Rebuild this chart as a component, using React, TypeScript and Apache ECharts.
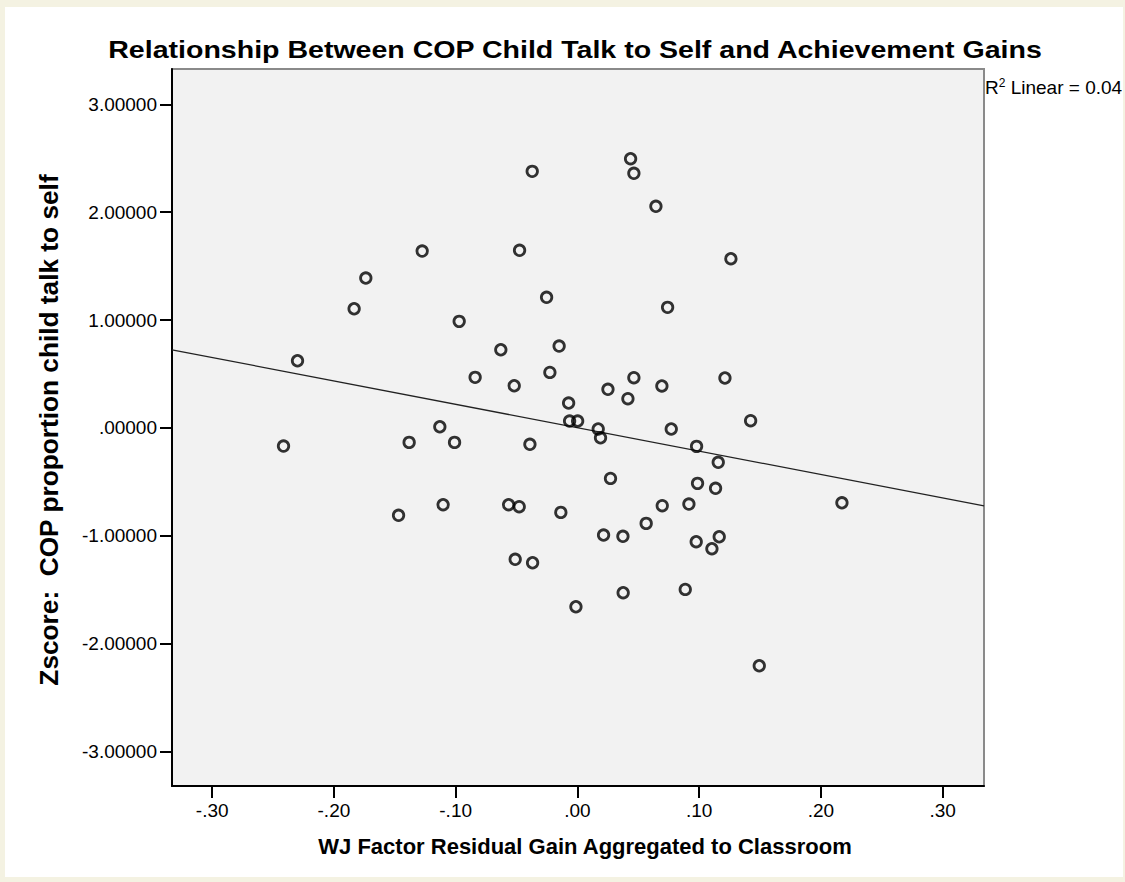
import React, { useEffect, useRef } from "react";
import * as echarts from "echarts";

const chartTitle = "Relationship Between COP Child Talk to Self and Achievement Gains";
const xAxisTitle = "WJ Factor Residual Gain Aggregated to Classroom";
const yAxisTitle = "Zscore:  COP proportion child talk to self";

const xTicks = [-0.3, -0.2, -0.1, 0, 0.1, 0.2, 0.3];
const yTicks = [-3, -2, -1, 0, 1, 2, 3];
const xRange = [-0.333, 0.334];
const yRange = [-3.32, 3.328];

const xValues = [
  -0.2414, -0.2299, -0.1834, -0.1738, -0.1469, -0.1382, -0.1275, -0.113, -0.1103, -0.1009,
  -0.0971, -0.084, -0.0629, -0.0565, -0.0519, -0.0511, -0.0478, -0.0475, -0.039, -0.0371,
  -0.0368, -0.0253, -0.0226, -0.015, -0.0136, -0.0072, -0.0064, 0.0002, -0.0012, 0.0171,
  0.019, 0.0215, 0.0251, 0.0272, 0.0374, 0.0376, 0.0415, 0.0437, 0.0464, 0.0464,
  0.0565, 0.0645, 0.0694, 0.0697, 0.0741, 0.0771, 0.0886, 0.0916, 0.0976, 0.0979,
  0.0987, 0.1105, 0.1135, 0.1157, 0.1165, 0.1212, 0.1261, 0.1423, 0.1494, 0.2173,
];
const yValues = [
  -0.168, 0.623, 1.105, 1.39, -0.81, -0.134, 1.64, 0.011, -0.712, -0.134,
  0.988, 0.469, 0.725, -0.712, 0.391, -1.218, -0.73, 1.647, -0.152, 2.379,
  -1.25, 1.211, 0.515, 0.759, -0.783, 0.231, 0.064, 0.064, -1.658, -0.01,
  -0.091, -0.993, 0.358, -0.468, -1.005, -1.528, 0.271, 2.496, 2.361, 0.466,
  -0.885, 2.055, 0.389, -0.721, 1.118, -0.01, -1.497, -0.706, -1.055, -0.171,
  -0.514, -1.12, -0.56, -0.319, -1.009, 0.463, 1.569, 0.067, -2.205, -0.694,
];

const fitSlope = -2.17;
const fitIntercept = 0.002;
const rSquaredText = "0.04";

const FONT = "'Liberation Sans', Arial, sans-serif";

function fmtX(v: number): string {
  const s = Math.abs(v).toFixed(2).replace(/^0/, "");
  return (v < -1e-9 ? "-" : "") + s;
}
function fmtY(v: number): string {
  const a = Math.abs(v);
  const s = a < 1e-9 ? ".00000" : a.toFixed(5);
  return (v < -1e-9 ? "-" : "") + s;
}

export default function App() {
  const ref = useRef<HTMLDivElement>(null);

  useEffect(() => {
    document.body.style.margin = "0";
    if (!ref.current) return;
    const chart = echarts.init(ref.current, undefined, { renderer: "svg" });
    const points = xValues.map((x, i) => [x, yValues[i]]);
    const fit = [
      [xRange[0], fitIntercept + fitSlope * xRange[0]],
      [xRange[1], fitIntercept + fitSlope * xRange[1]],
    ];
    chart.setOption({
      animation: false,
      backgroundColor: "transparent",
      grid: {
        left: 172,
        top: 69,
        right: 141,
        bottom: 96,
        show: true,
        backgroundColor: "#f2f2f2",
        borderColor: "#8a8a8a",
        borderWidth: 2,
      },
      xAxis: {
        type: "value",
        min: xRange[0],
        max: xRange[1],
        splitLine: { show: false },
        axisLine: { show: true, onZero: false, lineStyle: { color: "#000", width: 2 } },
        axisTick: {
          show: true,
          customValues: xTicks,
          length: 12,
          lineStyle: { color: "#000", width: 2 },
        },
        axisLabel: {
          customValues: xTicks,
          formatter: (v: number) => fmtX(v),
          color: "#000",
          fontFamily: FONT,
          fontSize: 19,
          margin: 15,
        },
      },
      yAxis: {
        type: "value",
        min: yRange[0],
        max: yRange[1],
        splitLine: { show: false },
        axisLine: { show: true, onZero: false, lineStyle: { color: "#000", width: 2 } },
        axisTick: {
          show: true,
          customValues: yTicks,
          length: 12,
          lineStyle: { color: "#000", width: 2 },
        },
        axisLabel: {
          customValues: yTicks,
          formatter: (v: number) => fmtY(v),
          color: "#000",
          fontFamily: FONT,
          fontSize: 19,
          margin: 15,
        },
      },
      series: [
        {
          type: "line",
          data: fit,
          symbol: "none",
          lineStyle: { color: "#222", width: 1.3 },
          silent: true,
          z: 1,
        },
        {
          type: "scatter",
          data: points,
          symbol: "circle",
          symbolSize: 10.5,
          itemStyle: { color: "rgba(0,0,0,0)", borderColor: "#000", borderWidth: 2.8 },
          z: 2,
        },
      ],
      graphic: [
        {
          type: "text",
          x: 575,
          y: 50,
          scaleX: 1.19,
          style: {
            text: chartTitle,
            fontFamily: FONT,
            fontWeight: "bold",
            fontSize: 24,
            fill: "#000",
            textAlign: "center",
            textVerticalAlign: "middle",
          },
        },
        {
          type: "text",
          x: 585,
          y: 846,
          style: {
            text: xAxisTitle,
            fontFamily: FONT,
            fontWeight: "bold",
            fontSize: 22,
            fill: "#000",
            textAlign: "center",
            textVerticalAlign: "middle",
          },
        },
        {
          type: "text",
          x: 49,
          y: 430,
          rotation: Math.PI / 2,
          scaleX: 1.05,
          style: {
            text: yAxisTitle,
            fontFamily: FONT,
            fontWeight: "bold",
            fontSize: 25,
            fill: "#000",
            textAlign: "center",
            textVerticalAlign: "middle",
          },
        },
        {
          type: "text",
          x: 985,
          y: 77,
          style: {
            text: "{r|R}{s|2}{r| Linear = " + rSquaredText + "}",
            fontFamily: FONT,
            fill: "#000",
            rich: {
              r: { fontFamily: FONT, fontSize: 19, lineHeight: 20, verticalAlign: "bottom" },
              s: { fontFamily: FONT, fontSize: 12, lineHeight: 20, verticalAlign: "top" },
            },
          },
        },
      ],
    });
    return () => chart.dispose();
  }, []);

  return (
    <div style={{ position: "fixed", left: 0, top: 0, width: 1125, height: 882, background: "#f4f2e2" }}>
      <div style={{ position: "absolute", left: 5, top: 7, width: 1118, height: 870, background: "#fff" }} />
      <div ref={ref} style={{ position: "absolute", left: 0, top: 0, width: 1125, height: 882 }} />
    </div>
  );
}
